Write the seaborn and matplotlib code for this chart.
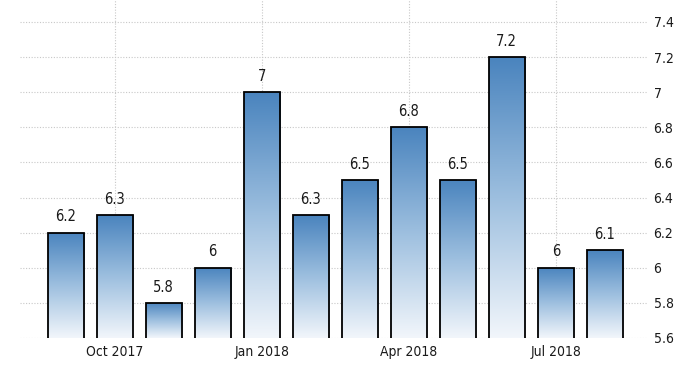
import numpy as np
import pandas as pd
import matplotlib
matplotlib.use("Agg")
import matplotlib.pyplot as plt
import seaborn as sns
from matplotlib.colors import LinearSegmentedColormap

months = ["Sep 2017", "Oct 2017", "Nov 2017", "Dec 2017", "Jan 2018", "Feb 2018",
          "Mar 2018", "Apr 2018", "May 2018", "Jun 2018", "Jul 2018", "Aug 2018"]
values = [6.2, 6.3, 5.8, 6.0, 7.0, 6.3, 6.5, 6.8, 6.5, 7.2, 6.0, 6.1]
value_labels = ["6.2", "6.3", "5.8", "6", "7", "6.3", "6.5", "6.8", "6.5", "7.2", "6", "6.1"]
xtick_months = ["Oct 2017", "Jan 2018", "Apr 2018", "Jul 2018"]
yticks = [5.6, 5.8, 6.0, 6.2, 6.4, 6.6, 6.8, 7.0, 7.2, 7.4]
ytick_labels = ["5.6", "5.8", "6", "6.2", "6.4", "6.6", "6.8", "7", "7.2", "7.4"]

sns.set_style("white")
plt.rcParams["font.family"] = ["DejaVu Sans"]
plt.rcParams["font.stretch"] = "condensed"

df = pd.DataFrame({"month": months, "value": values})

fig = plt.figure(figsize=(7, 3.75), dpi=100)
ax = fig.add_axes([20 / 700, 1 - 338 / 375, 628 / 700, 338 / 375])
ymin = 5.6
sns.barplot(data=df, x="month", y="value", ax=ax, width=0.735,
            facecolor="none", edgecolor="black", linewidth=1.3, zorder=3)
ax.set_ylim(ymin, 7.525)
ax.set_xlim(-0.93, 11.88)

cmap = LinearSegmentedColormap.from_list("g", ["#f2f6fb", "#9dbfdf", "#4a84be"])
grad = np.linspace(0, 1, 256).reshape(-1, 1)
for p in ax.patches:
    x0, y0 = p.get_x(), p.get_y()
    w, h = p.get_width(), p.get_height()
    im = ax.imshow(grad, cmap=cmap, origin="lower", aspect="auto",
                   extent=[x0, x0 + w, ymin, y0 + h], zorder=2)
    im.set_clip_path(p)

for i, (v, lab) in enumerate(zip(values, value_labels)):
    ax.annotate(lab, xy=(i, v), xytext=(0, 6), textcoords="offset points",
                ha="center", va="bottom", fontsize=10.5, color="#1a1a1a",
                fontstretch="condensed")

ax.set_yticks(yticks)
ax.set_yticklabels(ytick_labels, fontstretch="condensed")
ax.yaxis.tick_right()
xt = [months.index(m) for m in xtick_months]
ax.set_xticks(xt)
ax.set_xticklabels(xtick_months, fontstretch="condensed")
ax.tick_params(axis="both", length=0, labelsize=10, colors="#1a1a1a")
ax.tick_params(axis="y", pad=4)
ax.tick_params(axis="x", pad=5)
ax.set_xlabel("")
ax.set_ylabel("")
for s in ax.spines.values():
    s.set_visible(False)
ax.grid(True, axis="both", linestyle=(0, (1, 1.5)), color="#c8c8c8", linewidth=0.8, zorder=0)
ax.set_axisbelow(True)

fig.savefig("out.png", dpi=100)
